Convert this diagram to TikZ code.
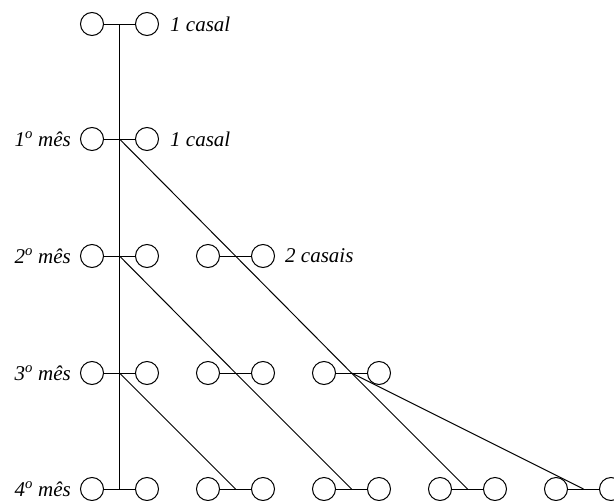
\documentclass[tikz,border=0pt]{standalone}
\usepackage{fontspec}
\setmainfont{Liberation Serif}
\begin{document}
\begin{tikzpicture}[x=1pt,y=-1pt,
  pc/.style={circle, draw, line width=1pt, minimum size=23pt, inner sep=0pt},
  lbl/.style={font=\fontsize{21}{25}\selectfont\itshape, inner sep=0pt},
  ln/.style={line width=1pt}]
\useasboundingbox (0,0) rectangle (614,501);
\foreach \r/\y/\n in {0/24/1,1/139/1,2/256/2,3/373/3,4/489/5} {
  \foreach \k in {1,...,\n} {
    \pgfmathsetmacro\xl{92+116*(\k-1)}
    \pgfmathsetmacro\xr{147+116*(\k-1)}
    \pgfmathsetmacro\xj{119.5+116*(\k-1)}
    \node[pc] (L\r\k) at (\xl,\y) {};
    \node[pc] (R\r\k) at (\xr,\y) {};
    \coordinate (J\r\k) at (\xj,\y);
    \draw[ln] (L\r\k) -- (R\r\k);
  }
}
\draw[ln] (J01) -- (J41);
\draw[ln] (J11) -- (J22) -- (J33) -- (J44);
\draw[ln] (J21) -- (J32) -- (J43);
\draw[ln] (J31) -- (J42);
\draw[ln] (J33) -- (J45);
\node[lbl, anchor=west] (c0) at (170,24) {1 casal};
\node[lbl, anchor=west] (c1) at (170,139) {1 casal};
\node[lbl, anchor=west] (c2) at (285,256) {2 casais};
\node[lbl, anchor=east] (m1) at (71,139) {1\textsuperscript{o} mês};
\node[lbl, anchor=east] (m2) at (71,256) {2\textsuperscript{o} mês};
\node[lbl, anchor=east] (m3) at (71,373) {3\textsuperscript{o} mês};
\node[lbl, anchor=east] (m4) at (71,489) {4\textsuperscript{o} mês};
\end{tikzpicture}
\end{document}
